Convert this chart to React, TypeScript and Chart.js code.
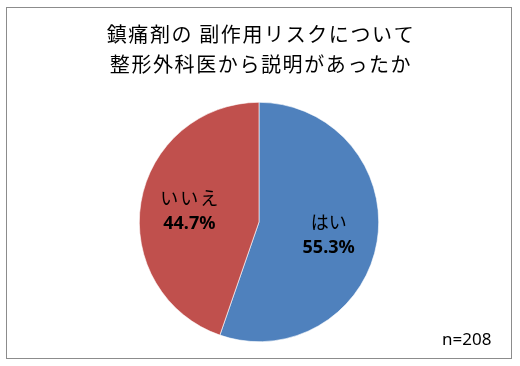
import React, { useEffect, useRef } from "react";
import { Chart, registerables } from "chart.js";

Chart.register(...registerables);

const titleLines = ["鎮痛剤の 副作用リスクについて", "整形外科医から説明があったか"];
const categories = ["はい", "いいえ"];
const values = [55.3, 44.7];
const colors = ["#4F81BD", "#C0504D"];
const sampleNote = "n=208";

const overlayPlugin = {
  id: "overlay",
  afterDraw(chart: any) {
    const ctx = chart.ctx as CanvasRenderingContext2D;
    ctx.save();
    // frame
    ctx.strokeStyle = "#8c8c8c";
    ctx.lineWidth = 1;
    ctx.strokeRect(6.5, 7.5, 505, 351);
    // title
    ctx.fillStyle = "#000";
    ctx.textAlign = "center";
    ctx.textBaseline = "middle";
    ctx.font = '20px "Noto Sans CJK JP"';
    (ctx as any).letterSpacing = "1.6px";
    titleLines.forEach((t, i) => ctx.fillText(t, 261, 34 + i * 30));
    (ctx as any).letterSpacing = "0px";
    // slice labels
    const meta = chart.getDatasetMeta(0);
    meta.data.forEach((arc: any, i: number) => {
      const { x, y, startAngle, endAngle, outerRadius } = arc.getProps(
        ["x", "y", "startAngle", "endAngle", "outerRadius"],
        true
      );
      const mid = (startAngle + endAngle) / 2;
      const r = outerRadius * 0.59;
      const cx = x + Math.cos(mid) * r;
      const cy = y + Math.sin(mid) * r;
      ctx.fillStyle = "#000";
      ctx.font = '18px "Noto Sans CJK JP"';
      (ctx as any).letterSpacing = i === 1 ? "2px" : "0px";
      ctx.fillText(categories[i], cx + (i === 1 ? 1 : 0), cy - 12);
      (ctx as any).letterSpacing = "0px";
      ctx.font = 'bold 18px "Noto Sans"';
      ctx.fillText(values[i].toFixed(1) + "%", cx, cy + 14);
    });
    // n
    ctx.font = '17px "Noto Sans"';
    ctx.textAlign = "left";
    ctx.fillText(sampleNote, 442, 340);
    ctx.restore();
  },
};

export default function App() {
  const ref = useRef<HTMLCanvasElement>(null);
  useEffect(() => {
    const chart = new Chart(ref.current!, {
      type: "pie",
      data: {
        labels: categories,
        datasets: [
          {
            data: values,
            backgroundColor: colors,
            borderColor: "#ffffff",
            borderWidth: 0.6,
          },
        ],
      },
      options: {
        responsive: false,
        animation: false,
        layout: { padding: { top: 102, bottom: 24, left: 138, right: 140 } },
        plugins: {
          legend: { display: false },
          tooltip: { enabled: false },
          title: { display: false },
        },
      },
      plugins: [overlayPlugin],
    });
    return () => chart.destroy();
  }, []);
  return (
    <div style={{ position: "fixed", left: 0, top: 0, width: 520, height: 366, background: "#fff" }}>
      <canvas ref={ref} width={520} height={366} />
    </div>
  );
}
